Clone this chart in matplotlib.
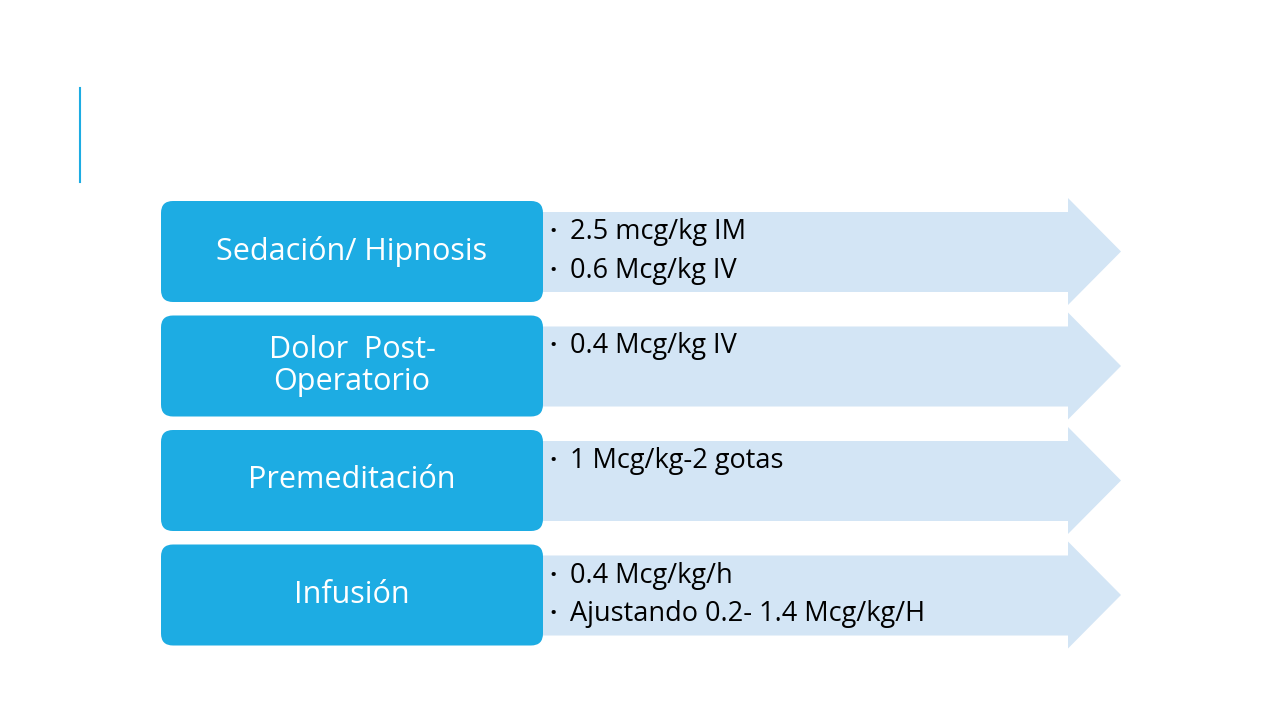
import matplotlib
matplotlib.use("Agg")
import matplotlib.pyplot as plt
from matplotlib.patches import FancyBboxPatch, Polygon

categories = ["Sedación/ Hipnosis", "Dolor  Post-\nOperatorio", "Premeditación", "Infusión"]
bullets = [
    ["2.5 mcg/kg IM", "0.6 Mcg/kg IV"],
    ["0.4 Mcg/kg IV"],
    ["1 Mcg/kg-2 gotas"],
    ["0.4 Mcg/kg/h", "Ajustando 0.2- 1.4 Mcg/kg/H"],
]

BLUE = "#1DACE3"
LIGHT = "#D3E5F5"
FONT = ["Open Sans", "DejaVu Sans"]

fig = plt.figure(figsize=(12.8, 7.2), dpi=100)
ax = fig.add_axes([0, 0, 1, 1])
ax.set_xlim(0, 1280)
ax.set_ylim(720, 0)
ax.axis("off")

ax.plot([80, 80], [88, 182], color=BLUE, lw=1.5)

top0 = 201
step = 114.5
h = 101
for i, (cat, bl) in enumerate(zip(categories, bullets)):
    top = top0 + i * step
    mid = top + h / 2
    body_t, body_b = top + 11, top + 91
    head_t, head_b = top - 3, top + 104
    poly = Polygon([(520, body_t), (1068, body_t), (1068, head_t), (1121, mid),
                    (1068, head_b), (1068, body_b), (520, body_b)],
                   closed=True, facecolor=LIGHT, edgecolor="none")
    ax.add_patch(poly)
    box = FancyBboxPatch((161, top), 382, h, boxstyle="round,pad=0,rounding_size=12",
                         facecolor=BLUE, edgecolor="none")
    ax.add_patch(box)
    ax.text(352, mid, cat, color="white", fontsize=22, ha="center", va="center",
            family=FONT, linespacing=1.05)
    for j, b in enumerate(bl):
        y = top + 31 + j * 39
        ax.text(549, y, "•", fontsize=14, va="center", ha="left", family=FONT)
        ax.text(570, y, b, fontsize=19.5, va="center", ha="left", family=FONT)

fig.savefig("out.png", dpi=100, facecolor="white")
